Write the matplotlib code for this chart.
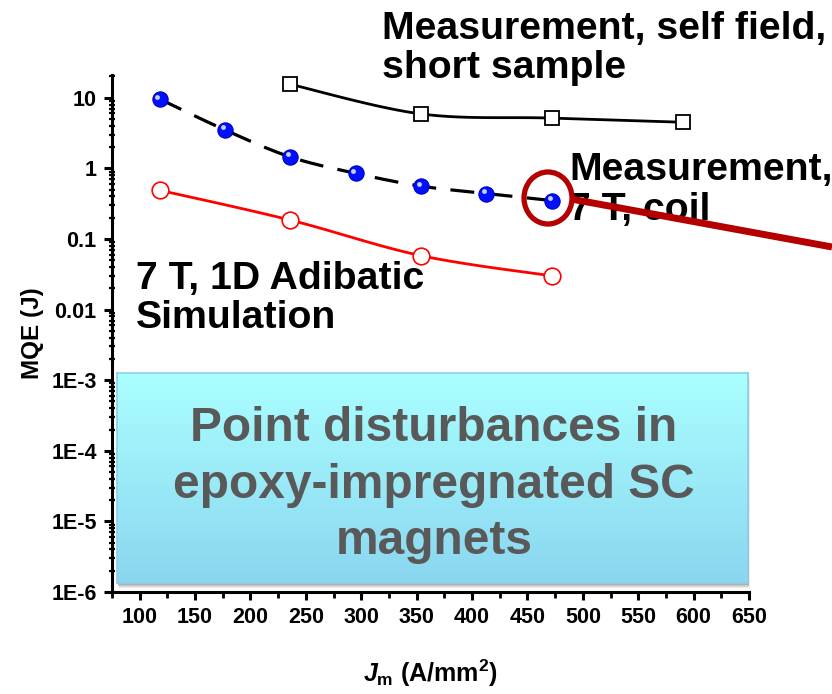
import numpy as np
import matplotlib.pyplot as plt
import matplotlib.patches as patches
import matplotlib.transforms as mtransforms
from matplotlib.ticker import MultipleLocator, FixedLocator, LogLocator, NullFormatter

plt.rcParams['font.family'] = ['Liberation Sans', 'DejaVu Sans']
plt.rcParams['font.weight'] = 'bold'
plt.rcParams['mathtext.fontset'] = 'custom'
plt.rcParams['mathtext.it'] = 'Liberation Sans:bold:italic'
plt.rcParams['mathtext.rm'] = 'Liberation Sans:bold'
plt.rcParams['mathtext.bf'] = 'Liberation Sans:bold'

# data (Jm in A/mm^2, MQE in J)
SHORT_X = [236, 354, 472, 590]
SHORT_Y = [15.5, 5.9, 5.15, 4.5]
COIL_X = [118, 177, 236, 295, 354, 413, 472]
COIL_Y = [9.6, 3.5, 1.45, 0.85, 0.56, 0.44, 0.35]
SIM_X = [118, 236, 354, 472]
SIM_Y = [0.49, 0.185, 0.058, 0.030]

X_TICKS = list(range(100, 651, 50))
Y_TICKS = [1e-6, 1e-5, 1e-4, 1e-3, 1e-2, 1e-1, 1, 10]
Y_LABELS = ['1E-6', '1E-5', '1E-4', '1E-3', '0.01', '0.1', '1', '10']

W, H = 832, 694


def px(x, y):
    # pixel position -> figure fraction
    return x / W, 1 - y / H


def smooth(xs, ys, n=40):
    # catmull-rom through the points, in log space, just for the drawn line
    x = np.asarray(xs, float)
    y = np.log10(np.asarray(ys, float))
    pts = np.column_stack([x, y])
    pts = np.vstack([pts[0], pts, pts[-1]])
    out = []
    t = np.linspace(0, 1, n)[:, None]
    for i in range(1, len(pts) - 2):
        p0, p1, p2, p3 = pts[i - 1], pts[i], pts[i + 1], pts[i + 2]
        seg = 0.5 * ((2 * p1) + (-p0 + p2) * t + (2 * p0 - 5 * p1 + 4 * p2 - p3) * t ** 2
                     + (-p0 + 3 * p1 - 3 * p2 + p3) * t ** 3)
        out.append(seg)
    out = np.vstack(out)
    return out[:, 0], 10 ** out[:, 1]


fig = plt.figure(figsize=(W / 100, H / 100), dpi=100)
x0, y0 = px(112, 592)
x1, y1 = px(749, 75)
ax = fig.add_axes([x0, y0, x1 - x0, y1 - y0])

ax.set_yscale('log')
ax.set_xlim(75, 650)
ax.set_ylim(1e-6, 21)

# lines
sx, sy = smooth(SHORT_X, SHORT_Y)
ax.plot(sx, sy, color='black', lw=2.0, zorder=3)
ax.plot(SHORT_X, SHORT_Y, ls='none', marker='s', ms=10, mfc='white', mec='black', mew=1.3, zorder=4)

cx, cy = smooth(COIL_X, COIL_Y)
ax.plot(cx, cy, color='black', lw=2.3, dashes=(7.5, 4.5), zorder=3)
ax.plot(COIL_X, COIL_Y, ls='none', marker='o', ms=11, mfc='#0010ff', mec='#0000c8', mew=0.8, zorder=4)
hl = mtransforms.offset_copy(ax.transData, fig=fig, x=-1.6, y=1.8, units='points')
ax.plot(COIL_X, COIL_Y, ls='none', marker='o', ms=3.5, mfc='#c8d0ff', mec='none', transform=hl, zorder=5)

rx, ry = smooth(SIM_X, SIM_Y)
ax.plot(rx, ry, color='#ff0000', lw=2.0, zorder=3)
ax.plot(SIM_X, SIM_Y, ls='none', marker='o', ms=12, mfc='white', mec='#ff0000', mew=1.2, zorder=4)

# axes styling
for side in ['top', 'right']:
    ax.spines[side].set_visible(False)
for side in ['left', 'bottom']:
    ax.spines[side].set_linewidth(2.2)

ax.xaxis.set_major_locator(FixedLocator(X_TICKS))
ax.xaxis.set_minor_locator(MultipleLocator(25))
ax.yaxis.set_major_locator(FixedLocator(Y_TICKS))
ax.set_yticklabels(Y_LABELS)
ax.yaxis.set_minor_locator(LogLocator(base=10, subs=np.arange(2, 10), numticks=20))
ax.yaxis.set_minor_formatter(NullFormatter())
ax.tick_params(axis='both', which='major', direction='out', length=6, width=2.2,
               labelsize=15.5, pad=5)
ax.tick_params(axis='x', which='minor', direction='out', length=4, width=2.0)
ax.tick_params(axis='y', which='minor', direction='inout', length=5, width=1.6)
for lab in ax.get_xticklabels() + ax.get_yticklabels():
    lab.set_fontweight('bold')

ax.set_ylabel('MQE (J)', fontsize=17.5, fontweight='bold', labelpad=5)
ax.set_xlabel(r'$J_{\rm m}$ (A/mm$^{\rm 2}$)', fontsize=18, fontweight='bold', labelpad=21)

# annotation texts
fig.text(*px(382, 11), 'Measurement, self field,\nshort sample', fontsize=28.3,
         fontweight='bold', va='top', ha='left', linespacing=1.12)
fig.text(*px(569, 152), 'Measurement,\n7 T, coil', fontsize=28.3,
         fontweight='bold', va='top', ha='left', linespacing=1.15, zorder=6)
fig.text(*px(136, 261), '7 T, 1D Adibatic\nSimulation', fontsize=28.3,
         fontweight='bold', va='top', ha='left', linespacing=1.12)

# red ring and pointer line
ring = patches.Ellipse(px(548, 198), 48 / W, 52 / H, transform=fig.transFigure,
                       fill=False, ec='#b40000', lw=3.8, zorder=10)
fig.add_artist(ring)
fig.add_artist(plt.Line2D([571 / W, 1.0], [1 - 199 / H, 1 - 247 / H], transform=fig.transFigure,
                          color='#b40000', lw=5.0, solid_capstyle='butt', zorder=10))

# gradient box with caption
bl, bb = px(117, 583)
br, bt = px(748, 373)
for k, a in [(5, 0.10), (4, 0.12), (3, 0.15), (2, 0.18)]:
    fig.add_artist(patches.Rectangle((bl + k / W * 0.3, bb - k / H), br - bl, bt - bb,
                                     transform=fig.transFigure, fc='#555555', ec='none',
                                     alpha=a, zorder=6))
bax = fig.add_axes([bl, bb, br - bl, bt - bb], zorder=7)
grad = np.linspace(0, 1, 256)[:, None]
top_c = np.array([0xaa, 0xff, 0xff]) / 255
bot_c = np.array([0x8b, 0xd6, 0xf0]) / 255
img = top_c[None, None, :] * (1 - grad[:, :, None]) + bot_c[None, None, :] * grad[:, :, None]
bax.imshow(img, aspect='auto', extent=[0, 1, 0, 1])
bax.set_xticks([])
bax.set_yticks([])
for s in bax.spines.values():
    s.set_color('#8ccfe6')
    s.set_linewidth(1.2)
bax.text(0.502, 0.465, 'Point disturbances in\nepoxy-impregnated SC\nmagnets', ha='center', va='center',
         fontsize=34.5, fontweight='bold', color='#595959', linespacing=1.33, transform=bax.transAxes)

fig.savefig('out.png', dpi=100)
